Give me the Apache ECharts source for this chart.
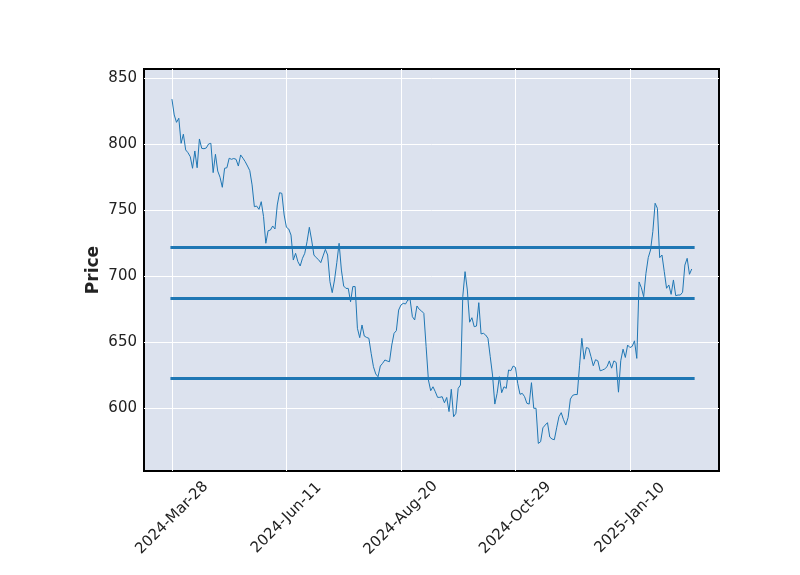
<!DOCTYPE html>
<html>
<head>
<meta charset="utf-8">
<script src="https://cdn.jsdelivr.net/npm/echarts@6/dist/echarts.min.js"></script>
<style>html,body{margin:0;padding:0;background:#fff}#c{width:800px;height:575px}</style>
</head>
<body>
<div id="c"></div>
<script>
// trading-day index positions of the date ticks and their labels
var tickPositions = [0, 50, 100, 150, 200];
var tickLabels = ['2024-Mar-28', '2024-Jun-11', '2024-Aug-20', '2024-Oct-29', '2025-Jan-10'];
var yTicks = [600, 650, 700, 750, 800, 850];
// closing prices, one per trading day
var prices = [
834, 822, 816.4, 819.5, 800.5, 807.4, 795.5, 793.4, 790.4, 781.6,
794.7, 782, 803.8, 796.7, 796.4, 797, 800, 800.5, 778.3, 792.2,
779.5, 774.8, 767.2, 781.6, 782, 789.2, 788.4, 789, 788.4, 783.3,
791.7, 789.3, 786.6, 783.3, 779.8, 769, 752.5, 753, 750.5, 756.3,
745, 724.8, 734.3, 734.8, 737.9, 735.6, 753.8, 763.1, 762.6, 746.2,
736.9, 735.6, 731, 712.1, 717.2, 710.9, 707.6, 713.4, 717.2, 726,
736.9, 727.3, 715.9, 713.9, 712.4, 710.1, 715.2, 720.2, 715.9, 695.7,
687.4, 697, 710.1, 724.8, 704.5, 692.4, 690.6, 690.6, 680.5, 692,
692, 660.4, 653.3, 662.9, 654.5, 653.5, 652.8, 641.4, 631.3, 625.8,
623.7, 631.8, 633.9, 636.4, 635.6, 635.1, 647.7, 656.6, 658.6, 674.2,
678, 679.3, 678.8, 681.8, 682.3, 669.2, 666.7, 677.3, 674.8, 673.5,
671.7, 646.5, 621.2, 613.1, 616.1, 612.4, 608.1, 608.1, 608.6, 604,
608, 597.3, 614.2, 593.4, 596, 614.9, 617.4, 684.3, 703.3, 689.4,
665, 668.4, 661.6, 662.1, 679.8, 656.1, 656.6, 655.3, 652.8, 638.9,
625, 603, 611.1, 623.7, 611.6, 616.1, 614.9, 628.8, 628.3, 631.8,
630.8, 618.7, 610.4, 611.1, 608.6, 603.6, 603, 619.2, 599.8, 599.8,
573.2, 574.5, 585, 587.1, 588.9, 578, 576.5, 576, 585, 593.4,
596.5, 591.2, 587.1, 592.8, 606.8, 609.6, 610.2, 610.2, 632, 652.8,
637, 645.8, 645.2, 638.9, 632, 636.6, 635.7, 628.2, 628.8, 629.6,
631.3, 635.7, 630.2, 635.7, 634.5, 612, 635.8, 644.6, 638.3, 647.7,
645.8, 646.7, 650.9, 637.6, 695.5, 691.1, 684.3, 702, 713.9, 719.7,
733.6, 755.1, 751.3, 713.9, 715.9, 703.3, 690.7, 693.2, 686.1, 697,
685.1, 685.6, 685.6, 687.7, 708.3, 713.4, 701.3, 705.3
];
// horizontal reference levels
var hlineLevels = [721.7, 683.3, 622.5];

var seriesData = prices.map(function (v, i) { return [i, v]; });
var lastIdx = prices.length - 1;
var hlineData = hlineLevels.map(function (v) {
  return [{ coord: [0, v] }, { coord: [lastIdx + 0.6, v] }];
});

var chart = echarts.init(document.getElementById('c'), null, { renderer: 'canvas' });
var font = 'DejaVu Sans';
chart.setOption({
  animation: false,
  backgroundColor: '#ffffff',
  grid: {
    left: 144, right: 81, top: 69, bottom: 104,
    show: true, backgroundColor: '#DCE2EE', borderColor: '#000000', borderWidth: 2,
    containLabel: false
  },
  xAxis: {
    type: 'value',
    min: -12.2, max: 238.9,
    axisLine: { show: false },
    axisTick: { show: false, customValues: tickPositions },
    splitLine: { show: true, lineStyle: { color: '#ffffff', width: 1 } },
    axisLabel: {
      customValues: tickPositions,
      rotate: 45,
      margin: 47,
      align: 'center',
      verticalAlign: 'middle',
      fontFamily: font, fontSize: 15, color: '#222222',
      formatter: function (v) {
        var k = tickPositions.indexOf(Math.round(v));
        return k >= 0 ? tickLabels[k] : '';
      }
    }
  },
  yAxis: {
    type: 'value',
    min: 552.3, max: 856.8,
    name: 'Price',
    nameLocation: 'middle',
    nameGap: 42,
    nameMoveOverlap: false,
    nameRotate: 90,
    nameTextStyle: { fontFamily: font, fontSize: 17, fontWeight: 'bold', color: '#222222' },
    axisLine: { show: false },
    axisTick: { show: false, customValues: yTicks },
    splitLine: { show: true, lineStyle: { color: '#ffffff', width: 1 } },
    axisLabel: { customValues: yTicks, margin: 7, fontFamily: font, fontSize: 15, color: '#222222' }
  },
  series: [{
    type: 'line',
    data: seriesData,
    symbol: 'none',
    lineStyle: { color: '#1f77b4', width: 1 },
    markLine: {
      silent: true,
      symbol: ['none', 'none'],
      label: { show: false },
      lineStyle: { color: '#1f77b4', width: 3, type: 'solid', cap: 'square' },
      emphasis: { disabled: true },
      data: hlineData
    }
  }]
});
</script>
</body>
</html>
